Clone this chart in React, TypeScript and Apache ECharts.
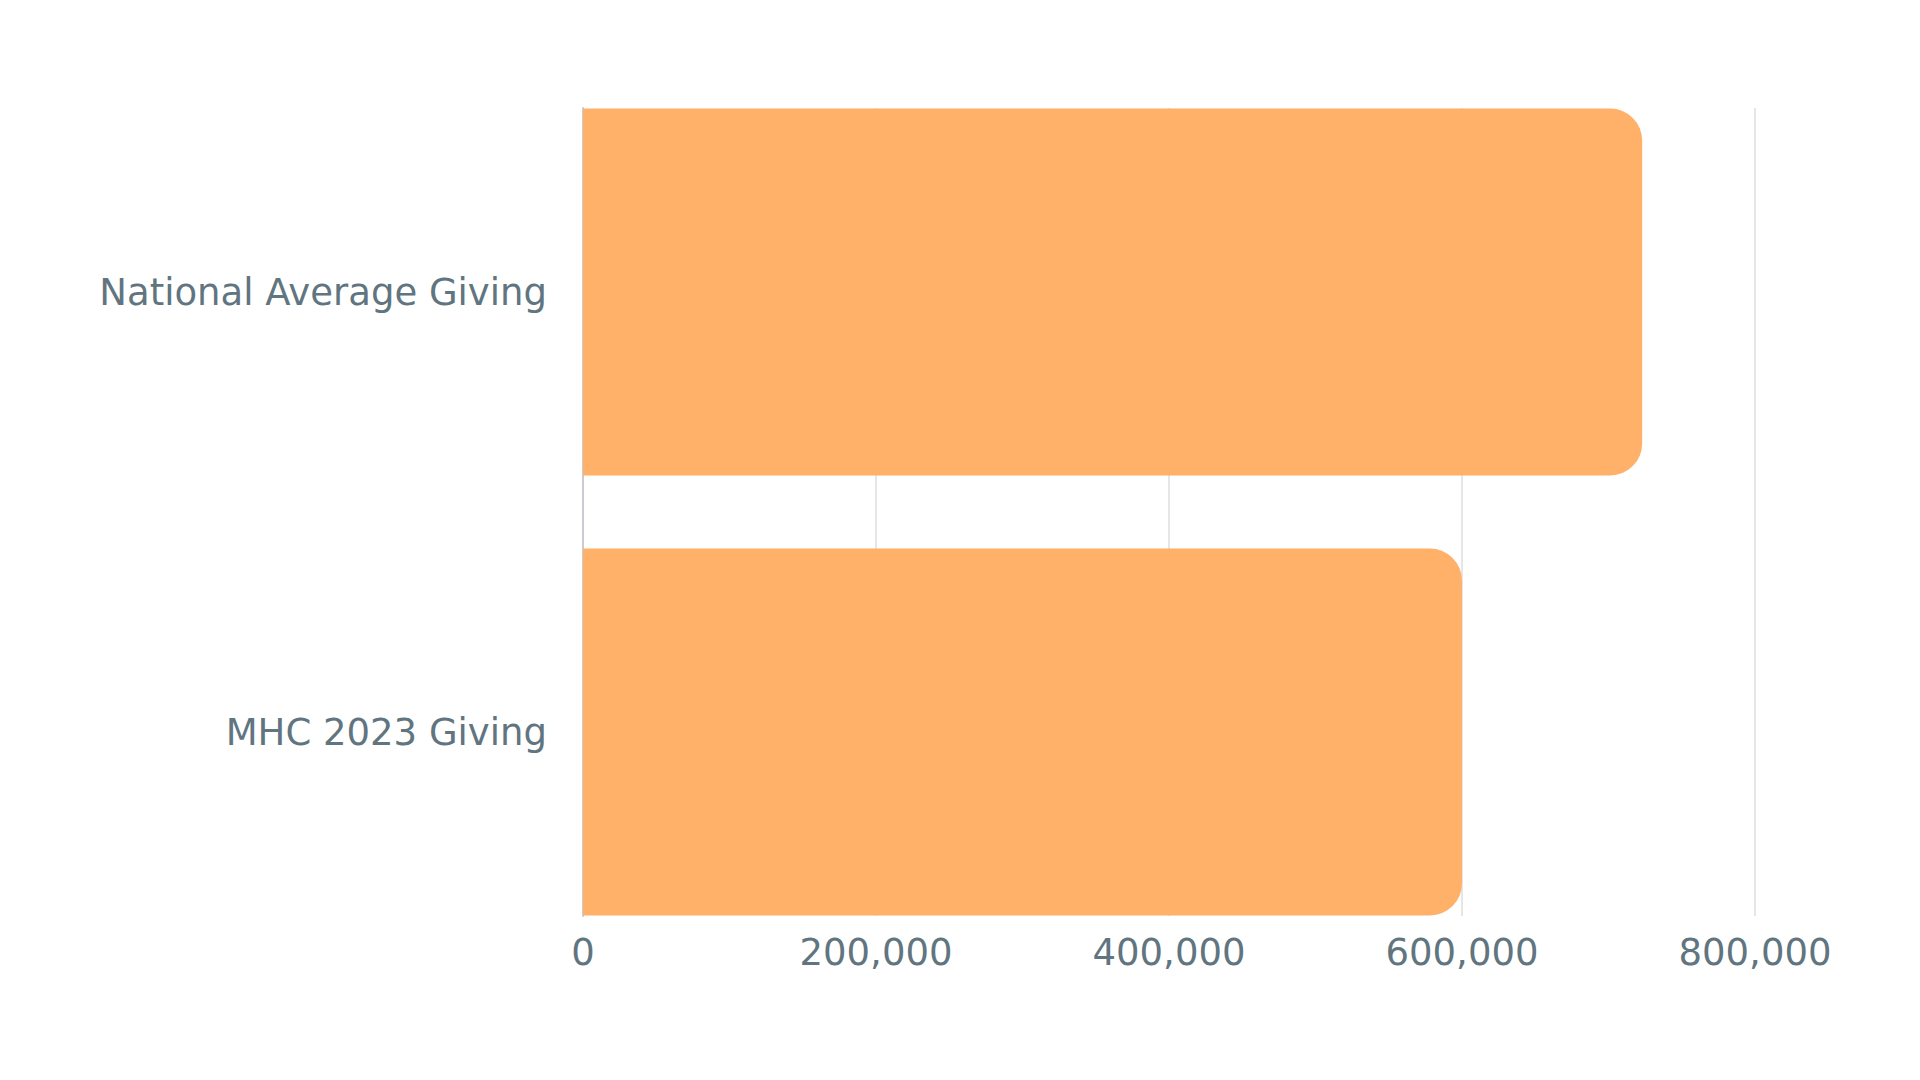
import React, { useEffect, useRef } from "react";
import * as echarts from "echarts";

const categories = ["National Average Giving", "MHC 2023 Giving"];
const givingValues = [723000, 600000];
const tickValues = [0, 200000, 400000, 600000, 800000];

const TEXT_COLOR = "#617580";
const BAR_COLOR = "#ffb169";
const FONT = "'DejaVu Sans', sans-serif";

export default function App() {
  const ref = useRef<HTMLDivElement>(null);
  useEffect(() => {
    document.body.style.margin = "0";
    if (!ref.current) return;
    const chart = echarts.init(ref.current, undefined, { renderer: "svg" });
    const xMin = tickValues[0];
    const xMax = tickValues[tickValues.length - 1];
    const xInterval = tickValues[1] - tickValues[0];
    chart.setOption({
      animation: false,
      backgroundColor: "#ffffff",
      grid: [
        { left: 583, right: 165, top: 108, bottom: 164 },
        { left: 583, right: 165, top: 72, bottom: 128 },
      ],
      xAxis: [
        {
          type: "value",
          gridIndex: 0,
          min: xMin,
          max: xMax,
          interval: xInterval,
          axisLine: { show: false },
          axisTick: { show: false },
          splitLine: { show: true, lineStyle: { color: "#e6e6e6", width: 2 } },
          axisLabel: {
            color: TEXT_COLOR,
            fontSize: 37,
            fontFamily: FONT,
            margin: 18,
            formatter: (v: number) => v.toLocaleString("en-US"),
          },
        },
        {
          type: "value",
          gridIndex: 1,
          min: xMin,
          max: xMax,
          interval: xInterval,
          show: false,
          splitLine: { show: false },
        },
      ],
      yAxis: [
        {
          type: "category",
          gridIndex: 0,
          data: categories,
          inverse: true,
          axisLine: { show: true, lineStyle: { color: "#c9cdd1", width: 2 } },
          axisTick: { show: false },
          axisLabel: { show: false },
          splitLine: { show: false },
        },
        {
          type: "category",
          gridIndex: 1,
          data: categories,
          inverse: true,
          axisLine: { show: false },
          axisTick: { show: false },
          splitLine: { show: false },
          axisLabel: {
            color: TEXT_COLOR,
            fontSize: 37,
            fontFamily: FONT,
            margin: 36,
          },
        },
      ],
      series: [
        {
          type: "bar",
          xAxisIndex: 1,
          yAxisIndex: 1,
          data: givingValues,
          barCategoryGap: "16.6%",
          itemStyle: { color: BAR_COLOR, borderRadius: [0, 32, 32, 0] },
          z: 3,
        },
      ],
    });
    return () => chart.dispose();
  }, []);
  return <div ref={ref} style={{ width: 1920, height: 1080 }} />;
}
